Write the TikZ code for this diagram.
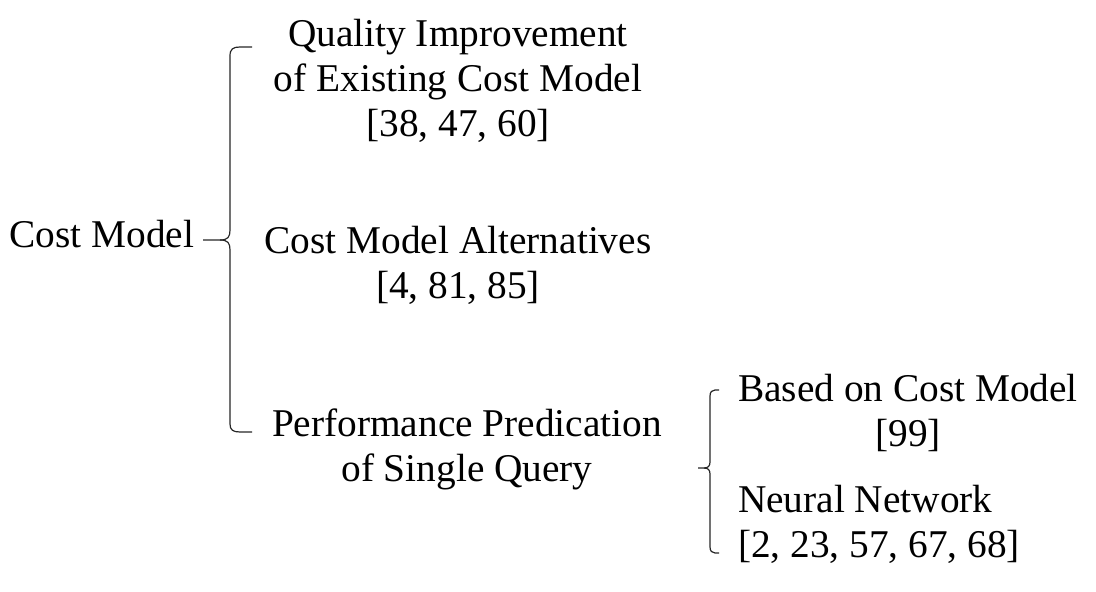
\documentclass[tikz,border=0pt]{standalone}
\usepackage{fontspec}
\setmainfont{Liberation Serif}
\begin{document}
\begin{tikzpicture}[x=0.75pt,y=-0.75pt,
  lbl/.style={inner sep=0pt, outer sep=0pt, align=center, anchor=base,
    font=\fontsize{29.5}{33.75}\selectfont},
  lbll/.style={lbl, align=left, anchor=base west},
  br/.style={draw=black!85, line width=0.9pt}]
\useasboundingbox (0,0) rectangle (1096,592);
\node[lbl] (cm) at (102,247) {Cost Model};
\node[lbl] (q) at (458,137) {Quality Improvement\\of Existing Cost Model\\{[38, 47, 60]}};
\node[lbl] (alt) at (458,298) {Cost Model Alternatives\\{[4, 81, 85]}};
\node[lbl] (perf) at (467,481) {Performance Predication\\of Single Query};
\node[lbl] (bcm) at (908,446) {Based on Cost Model\\{[99]}};
\node[lbll] (nn) at (738,557) {Neural Network\\{[2, 23, 57, 67, 68]}};
% main brace
\coordinate (t1) at (203,240);
\coordinate (h1) at (252,47);
\coordinate (h3) at (252,432);
\draw[br] (t1) -- (220,240) .. controls (228,240) and (230,237) .. (230,230) -- (230,56) .. controls (230,49) and (233,47) .. (240,47) -- (h1);
\draw[br] (220,240) .. controls (228,240) and (230,243) .. (230,250) -- (230,424) .. controls (230,430) and (233,432) .. (240,432) -- (h3);
% second brace
\coordinate (t2) at (698,468);
\coordinate (h4) at (719,390);
\coordinate (h5) at (719,553);
\draw[br] (t2) -- (704,468) .. controls (708,468) and (710,466) .. (710,462) -- (710,396) .. controls (710,392) and (712,390) .. (715,390) -- (h4);
\draw[br] (704,468) .. controls (708,468) and (710,470) .. (710,474) -- (710,547) .. controls (710,551) and (712,553) .. (715,553) -- (h5);
\end{tikzpicture}
\end{document}
